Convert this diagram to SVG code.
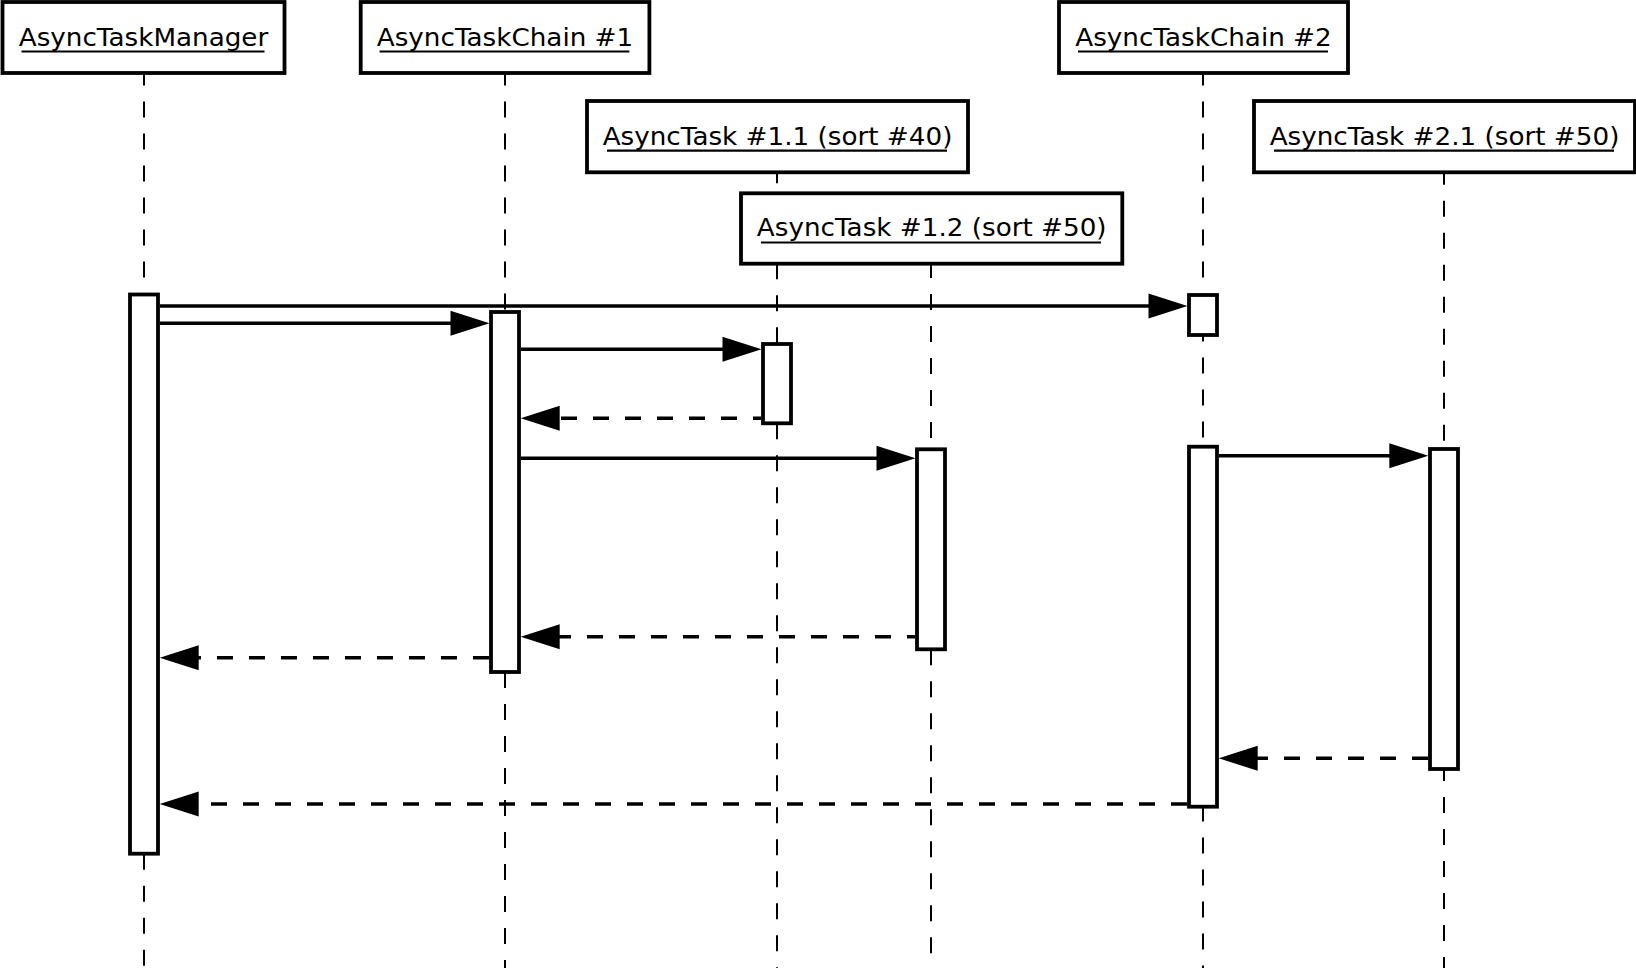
<svg xmlns="http://www.w3.org/2000/svg" width="1636" height="970" viewBox="0 0 1636 970">
<style>
.hdr{fill:#fff;stroke:#000;stroke-width:3.8}
.act{fill:#fff;stroke:#000;stroke-width:3.8}
.life{stroke:#000;stroke-width:2;stroke-dasharray:16 16;fill:none}
.lbl{font-family:"DejaVu Sans","Liberation Sans",sans-serif;font-size:24.5px;fill:#000;text-anchor:middle}
.ul{stroke:#000;stroke-width:2.2}
.msg{stroke:#000;stroke-width:3.6;fill:none;marker-end:url(#ah)}
.ret{stroke:#000;stroke-width:3.6;fill:none;stroke-dasharray:16 16;marker-end:url(#ah)}
</style>
<defs>
<marker id="ah" markerUnits="userSpaceOnUse" markerWidth="42" markerHeight="28" refX="19" refY="12.5" orient="auto" overflow="visible">
<path d="M0,0 L39,12.5 L0,25 Z" fill="#000" stroke="none"/>
</marker>
</defs>
<rect width="1636" height="970" fill="#fff"/>

<g id="asyncTaskManager">
<line class="life" x1="144" y1="37.5" x2="144" y2="294.5"/>
<line class="life" x1="144" y1="853.7" x2="144" y2="968"/>
<rect class="hdr" x="2.5" y="2" width="282" height="71"/>
<text class="lbl" transform="translate(143.5 45.5) scale(1.07 1)">AsyncTaskManager</text>
<line class="ul" x1="21.5" y1="51.5" x2="264.5" y2="51.5"/>
<rect class="act" x="130" y="294.5" width="28" height="559.2"/>
</g>

<g id="asyncTaskChain1">
<line class="life" x1="505" y1="37.5" x2="505" y2="312"/>
<line class="life" x1="505" y1="672" x2="505" y2="968"/>
<rect class="hdr" x="360.7" y="2" width="288.7" height="71"/>
<text class="lbl" transform="translate(505 45.5) scale(1.07 1)">AsyncTaskChain #1</text>
<line class="ul" x1="379.6" y1="51.5" x2="629.4" y2="51.5"/>
<rect class="act" x="491" y="312" width="28" height="360"/>
</g>

<g id="asyncTask11">
<line class="life" x1="777" y1="135.3" x2="777" y2="344"/>
<line class="life" x1="777" y1="423.3" x2="777" y2="968"/>
<rect class="hdr" x="587" y="101" width="381" height="71.3"/>
<text class="lbl" transform="translate(777.5 144.5) scale(1.07 1)">AsyncTask #1.1 (sort #40)</text>
<line class="ul" x1="607" y1="150.7" x2="947" y2="150.7"/>
<rect class="act" x="763" y="344" width="28" height="79.3"/>
</g>

<g id="asyncTask12">
<line class="life" x1="931" y1="230" x2="931" y2="449.3"/>
<line class="life" x1="931" y1="649.3" x2="931" y2="968"/>
<rect class="hdr" x="741" y="193.3" width="381.3" height="70.4"/>
<text class="lbl" transform="translate(931.7 236) scale(1.07 1)">AsyncTask #1.2 (sort #50)</text>
<line class="ul" x1="761" y1="242.5" x2="1101" y2="242.5"/>
<rect class="act" x="917" y="449.3" width="28" height="200"/>
</g>

<g id="asyncTaskChain2">
<line class="life" x1="1203" y1="37.5" x2="1203" y2="968"/>
<rect class="hdr" x="1059" y="2" width="289" height="71"/>
<text class="lbl" transform="translate(1203.5 45.5) scale(1.07 1)">AsyncTaskChain #2</text>
<line class="ul" x1="1078" y1="51.5" x2="1328" y2="51.5"/>
<rect class="act" x="1189" y="295" width="28" height="40"/>
<rect class="act" x="1189" y="446.7" width="28" height="360"/>
</g>

<g id="asyncTask21">
<line class="life" x1="1444" y1="136.7" x2="1444" y2="449"/>
<line class="life" x1="1444" y1="765" x2="1444" y2="968"/>
<rect class="hdr" x="1254" y="101" width="381" height="71.3"/>
<text class="lbl" transform="translate(1444.5 144.5) scale(1.07 1)">AsyncTask #2.1 (sort #50)</text>
<line class="ul" x1="1274" y1="150.7" x2="1614" y2="150.7"/>
<rect class="act" x="1430" y="449" width="28" height="320"/>
</g>

<g id="connectors">
<line class="msg" x1="160" y1="306" x2="1167.5" y2="306"/>
<line class="msg" x1="160" y1="323.3" x2="469.5" y2="323.3"/>
<line class="msg" x1="521" y1="349.3" x2="741.5" y2="349.3"/>
<line class="ret" x1="761" y1="418.3" x2="540.7" y2="418.3" stroke-dashoffset="8"/>
<line class="msg" x1="521" y1="458.3" x2="895.5" y2="458.3"/>
<line class="msg" x1="1219" y1="455.7" x2="1408.3" y2="455.7"/>
<line class="ret" x1="915" y1="636.7" x2="540.7" y2="636.7" stroke-dashoffset="8"/>
<line class="ret" x1="489" y1="657.7" x2="179.7" y2="657.7"/>
<line class="ret" x1="1428" y1="758.3" x2="1238.7" y2="758.3"/>
<line class="ret" x1="1187" y1="804" x2="179.7" y2="804"/>
</g>
</svg>
